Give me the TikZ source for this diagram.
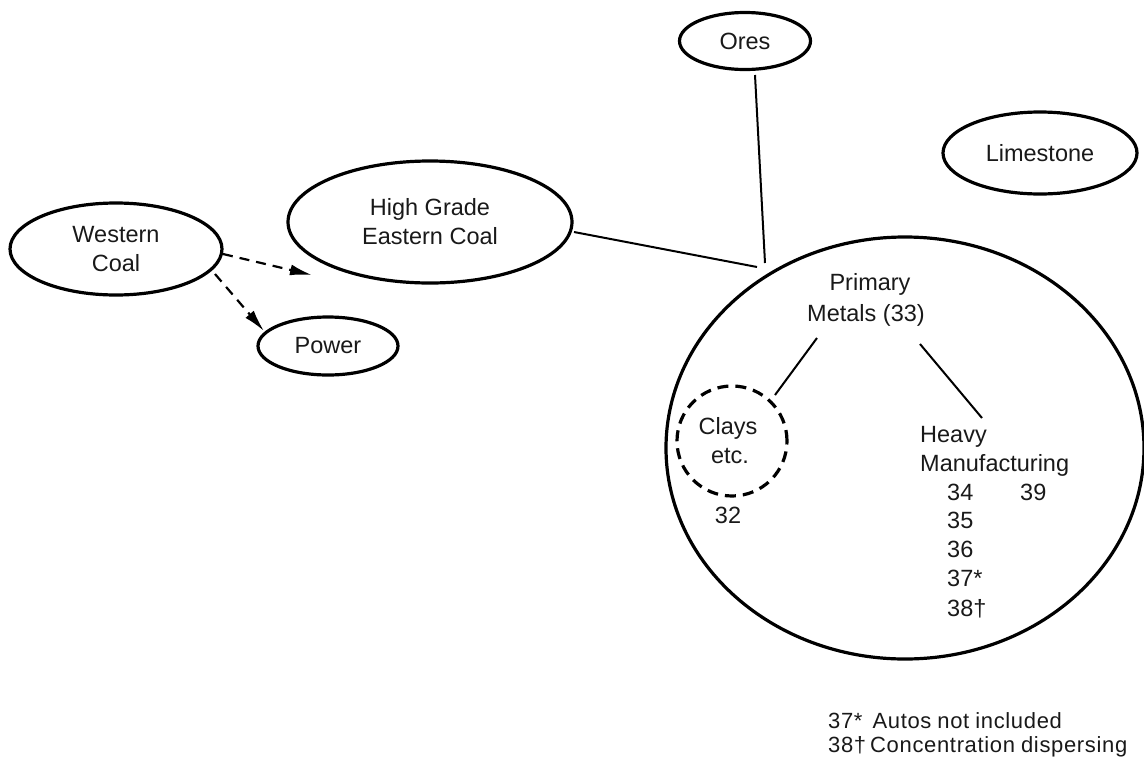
\documentclass[tikz,border=0pt]{standalone}
\usepackage{fontspec}
\setmainfont{Liberation Sans}
\usetikzlibrary{shapes.geometric,arrows.meta}
\begin{document}
\begin{tikzpicture}[x=1pt,y=-1pt,
  every node/.style={font=\fontsize{23.5}{29}\selectfont,text=black!90},
  oval/.style={ellipse,draw,line width=3.2pt,inner sep=0pt,align=center},
  conn/.style={line width=2pt},
  dconn/.style={line width=2.2pt,dash pattern=on 10pt off 7pt,
     -{Latex[length=22pt,width=11pt]}},
  lbl/.style={anchor=base,inner sep=0pt},
  lblw/.style={anchor=base west,inner sep=0pt},
  foot/.style={anchor=base west,inner sep=0pt,
     font=\fontsize{22}{24}\selectfont\addfontfeature{LetterSpace=3}}]
\useasboundingbox (0,0) rectangle (1144,761);

% outer nodes
\node[oval,minimum width=212pt,minimum height=92pt] (wc) at (116,249) {Western\\Coal};
\node[oval,minimum width=140pt,minimum height=58pt] (pw) at (328,346) {Power};
\node[oval,minimum width=284pt,minimum height=122pt] (hg) at (430,222) {High Grade\\Eastern Coal};
\node[oval,minimum width=131pt,minimum height=57pt] (ores) at (745,41) {Ores};
\node[oval,minimum width=194pt,minimum height=82pt] (ls) at (1040,153) {Limestone};

% big ellipse
\node[ellipse,draw,line width=3.2pt,inner sep=0pt,minimum width=478pt,minimum height=422pt] (big) at (905,448) {};

% dashed clays circle
\node[circle,draw,line width=3.2pt,dash pattern=on 11pt off 7pt,inner sep=0pt,minimum size=110pt] (clay) at (732,441) {};
\node[lbl] (clays1) at (728,434) {Clays};
\node[lbl] (clays2) at (730,463) {etc.};
\node[lbl] (n32) at (728,523) {32};

% primary metals
\node[lbl] (pm1) at (870,290) {Primary};
\node[lbl] (pm2) at (866,321) {Metals (33)};

% heavy manufacturing
\node[lblw] (hv1) at (920,442) {Heavy};
\node[lblw] (hv2) at (920,471) {Manufacturing};
\node[lblw] (n34) at (947,500) {34};
\node[lblw] (n39) at (1020,500) {39};
\node[lblw] (n35) at (947,528) {35};
\node[lblw] (n36) at (947,557) {36};
\node[lblw] (n37) at (947,586) {37*};
\node[lblw] (n38) at (947,616) {38†};

% footnotes
\node[foot] (f1) at (828,728) {37*\hspace{10pt}Autos\hspace{6pt}not\hspace{6pt}included};
\node[foot] (f2) at (828,752) {38†\hspace{4pt}Concentration\hspace{6pt}dispersing};

% coordinates for connector ends
\coordinate (wcA) at (223,254);
\coordinate (tipA) at (312,275);
\coordinate (wcB) at (215,274);
\coordinate (tipB) at (264,331);
\coordinate (hgE) at (574,232);
\coordinate (hgT) at (757,267);
\coordinate (oresE) at (755,75);
\coordinate (oresT) at (765,263);
\coordinate (pmL) at (817,338);
\coordinate (clayT) at (775,395);
\coordinate (pmR) at (920,344);
\coordinate (hvT) at (982,418);

% connectors
\draw[dconn] (wcA) -- (tipA);
\draw[dconn] (wcB) -- (tipB);
\draw[conn] (hgE) -- (hgT);
\draw[conn] (oresE) -- (oresT);
\draw[conn] (pmL) -- (clayT);
\draw[conn] (pmR) -- (hvT);
\end{tikzpicture}
\end{document}
